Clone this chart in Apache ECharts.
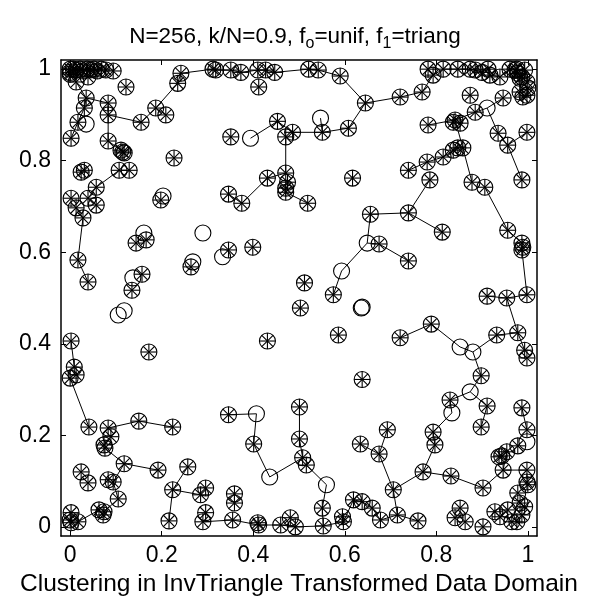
<!DOCTYPE html>
<html><head><meta charset="utf-8">
<script src="https://cdn.jsdelivr.net/npm/echarts@6/dist/echarts.min.js"></script>
<style>html,body{margin:0;padding:0;background:#fff}#c{width:590px;height:603px}</style>
</head><body><div id="c"></div>
<script>
// Clustered points (circle + asterisk)
const starPts = [
  // top-left pile
  [0.000,1.000],[0.000,0.993],[0.007,1.000],[0.013,0.998],[0.022,1.000],[0.028,0.996],[0.037,1.000],[0.044,0.998],
  [0.052,1.000],[0.059,0.996],[0.068,1.000],[0.078,0.998],[0.094,0.996],[0.013,0.972],[0.039,0.983],[0.000,0.989],
  // upper left
  [0.035,0.937],[0.083,0.926],[0.031,0.915],[0.083,0.900],[0.017,0.884],[0.002,0.849],[0.083,0.843],[0.111,0.823],
  [0.115,0.819],[0.118,0.817],[0.155,0.884],[0.187,0.915],[0.209,0.900],[0.235,0.969],[0.242,0.991],[0.312,1.000],
  [0.122,0.961],[0.227,0.806],[0.024,0.775],[0.031,0.779],[0.057,0.742],[0.107,0.779],[0.129,0.779],[0.002,0.718],
  [0.013,0.697],[0.039,0.718],[0.057,0.703],[0.028,0.675],[0.198,0.714],
  // upper middle
  [0.318,0.998],[0.351,0.998],[0.373,0.993],[0.410,0.998],[0.427,0.998],[0.447,0.993],[0.521,1.000],[0.542,0.998],
  [0.590,0.985],[0.645,0.926],[0.412,0.961],[0.453,0.886],[0.351,0.852],[0.486,0.862],[0.471,0.852],[0.551,0.862],
  [0.608,0.871],[0.471,0.773],[0.431,0.762],[0.475,0.753],[0.471,0.740],[0.471,0.731],[0.519,0.707],[0.346,0.727],
  [0.375,0.707],[0.617,0.762],[0.656,0.683],
  // upper right
  [0.782,1.000],[0.793,0.987],[0.815,1.000],[0.847,1.000],[0.874,1.000],[0.885,0.998],[0.900,0.993],[0.913,1.000],
  [0.917,0.987],[0.939,0.983],[0.961,1.000],[0.972,0.998],[0.978,0.991],[0.987,0.983],[0.993,0.998],[0.998,0.972],
  [1.000,0.959],[0.998,0.943],[0.989,0.939],[0.983,0.950],[0.976,1.000],[0.983,0.980],
  [0.721,0.939],[0.769,0.950],[0.874,0.943],[0.946,0.937],[0.885,0.906],[0.841,0.889],[0.837,0.884],[0.852,0.882],
  [0.782,0.878],[0.935,0.860],[0.998,0.862],[0.956,0.834],[0.987,0.758],[0.847,0.828],[0.837,0.823],[0.858,0.828],
  [0.815,0.808],[0.780,0.797],[0.739,0.779],[0.786,0.758],[0.878,0.753],[0.906,0.742],[0.739,0.686],
  // middle left
  [0.144,0.620],[0.166,0.627],[0.264,0.568],[0.346,0.605],[0.399,0.611],[0.157,0.552],[0.135,0.517],[0.002,0.406],
  [0.009,0.349],[0.013,0.332],[0.000,0.325],[0.172,0.382],[0.017,0.583],[0.039,0.535],
  // center
  [0.675,0.618],[0.739,0.581],[0.575,0.507],[0.512,0.533],[0.503,0.478],[0.586,0.419],[0.431,0.406],[0.638,0.322],
  [0.813,0.644],
  // middle right
  [0.956,0.648],[0.987,0.620],[0.989,0.611],[0.987,0.605],[0.911,0.504],[0.954,0.500],[0.998,0.507],[0.789,0.443],
  [0.721,0.413],[0.932,0.419],[0.978,0.424],[0.993,0.386],[0.998,0.369],[0.898,0.330],
  // lower left
  [0.041,0.218],[0.083,0.216],[0.089,0.197],[0.074,0.179],[0.076,0.172],[0.150,0.231],[0.224,0.218],[0.118,0.138],
  [0.192,0.124],[0.257,0.131],[0.224,0.081],[0.024,0.120],[0.039,0.096],[0.083,0.103],[0.094,0.098],[0.105,0.061],
  [0.063,0.037],[0.072,0.026],[0.074,0.033],[0.002,0.031],[0.002,0.009],[0.017,0.011],[0.000,0.015],[0.216,0.013],
  [0.296,0.085],[0.285,0.070],[0.296,0.031],[0.290,0.011],
  // lower middle
  [0.346,0.245],[0.401,0.181],[0.501,0.262],[0.501,0.192],[0.508,0.151],[0.516,0.135],[0.551,0.041],[0.634,0.181],
  [0.359,0.072],[0.359,0.052],[0.355,0.015],[0.412,0.004],[0.410,0.009],[0.460,0.004],[0.481,0.020],[0.492,0.000],
  [0.553,0.002],[0.595,0.022],[0.597,0.011],[0.619,0.059],[0.638,0.055],[0.660,0.041],[0.678,0.015],
  // lower right
  [0.830,0.277],[0.911,0.264],[0.898,0.218],[0.987,0.260],[0.998,0.212],[0.978,0.177],[0.954,0.164],[0.943,0.155],
  [0.937,0.153],[0.946,0.124],[0.998,0.124],[0.998,0.098],[1.000,0.092],[0.978,0.074],[0.693,0.212],[0.675,0.159],
  [0.793,0.207],[0.797,0.179],[0.771,0.120],[0.832,0.111],[0.902,0.085],[0.706,0.081],[0.715,0.026],[0.760,0.013],
  [0.841,0.020],[0.852,0.041],[0.863,0.011],[0.902,0.000],[0.928,0.033],[0.939,0.022],[0.956,0.037],[0.965,0.011],
  [0.987,0.026],[0.993,0.044],[0.983,0.052],[0.976,0.011]
];

// Unclustered points (plain circle)
const openPts = [
  [0.035,0.880],[0.394,0.849],[0.547,0.893],[0.911,0.915],[0.203,0.723],[0.161,0.642],[0.290,0.642],[0.268,0.579],
  [0.333,0.590],[0.137,0.544],[0.105,0.463],[0.118,0.472],[0.649,0.620],[0.593,0.559],[0.636,0.478],[0.638,0.480],
  [0.852,0.393],[0.880,0.382],[0.407,0.247],[0.436,0.109],[0.560,0.092],[0.874,0.295],[0.834,0.249],[0.998,0.186]
];

// Links between points (polylines)
const links = [
  [[0.013,0.972],[0.035,0.937],[0.083,0.926],[0.083,0.900],[0.155,0.884],[0.187,0.915],[0.235,0.969],[0.242,0.991],
   [0.312,1.000],[0.318,0.998],[0.351,0.998],[0.373,0.993],[0.410,0.998],[0.427,0.998],[0.447,0.993],[0.521,1.000],
   [0.542,0.998],[0.590,0.985],[0.645,0.926],[0.721,0.939],[0.769,0.950],[0.793,0.987]],
  [[0.031,0.915],[0.035,0.937]],
  [[0.002,0.849],[0.017,0.884],[0.031,0.915]],
  [[0.187,0.915],[0.209,0.900]],
  [[0.083,0.900],[0.083,0.843],[0.111,0.823]],
  [[0.645,0.926],[0.608,0.871],[0.551,0.862],[0.486,0.862],[0.453,0.886],[0.394,0.849]],
  [[0.551,0.862],[0.547,0.893]],
  [[0.471,0.852],[0.471,0.773]],
  [[0.346,0.727],[0.375,0.707],[0.431,0.762],[0.471,0.773]],
  [[0.471,0.731],[0.519,0.707]],
  [[0.782,1.000],[0.793,0.987],[0.815,1.000],[0.847,1.000],[0.874,1.000],[0.885,0.998],[0.900,0.993],[0.913,1.000],
   [0.917,0.987],[0.939,0.983],[0.961,1.000]],
  [[0.782,0.878],[0.841,0.889],[0.885,0.906],[0.911,0.915],[0.946,0.937]],
  [[0.911,0.915],[0.935,0.860],[0.956,0.834],[0.998,0.862]],
  [[0.956,0.834],[0.987,0.758]],
  [[0.841,0.889],[0.858,0.828],[0.878,0.753]],
  [[0.739,0.779],[0.780,0.797],[0.815,0.808],[0.847,0.828]],
  [[0.786,0.758],[0.739,0.686],[0.656,0.683]],
  [[0.906,0.742],[0.956,0.648],[0.987,0.620]],
  [[0.739,0.686],[0.813,0.644]],
  [[0.656,0.683],[0.649,0.620],[0.593,0.559],[0.575,0.507]],
  [[0.649,0.620],[0.675,0.618],[0.739,0.581]],
  [[0.987,0.605],[0.998,0.507],[0.954,0.500],[0.911,0.504]],
  [[0.721,0.413],[0.789,0.443],[0.852,0.393],[0.880,0.382],[0.932,0.419],[0.978,0.424],[0.993,0.386]],
  [[0.978,0.424],[0.954,0.500]],
  [[0.880,0.382],[0.898,0.330],[0.874,0.295],[0.830,0.277],[0.834,0.249],[0.793,0.207],[0.797,0.179],[0.771,0.120],
   [0.706,0.081],[0.675,0.159],[0.693,0.212]],
  [[0.874,0.295],[0.911,0.264],[0.898,0.218]],
  [[0.675,0.159],[0.634,0.181]],
  [[0.706,0.081],[0.715,0.026],[0.760,0.013]],
  [[0.771,0.120],[0.832,0.111],[0.902,0.085],[0.946,0.124],[0.998,0.124]],
  [[0.946,0.124],[0.954,0.164]],
  [[0.987,0.260],[0.998,0.212]],
  [[0.000,0.325],[0.041,0.218]],
  [[0.002,0.406],[0.009,0.349]],
  [[0.083,0.216],[0.150,0.231],[0.224,0.218]],
  [[0.076,0.172],[0.118,0.138],[0.192,0.124]],
  [[0.118,0.138],[0.094,0.098],[0.105,0.061],[0.074,0.033]],
  [[0.257,0.131],[0.224,0.081],[0.285,0.070]],
  [[0.224,0.081],[0.216,0.013]],
  [[0.017,0.011],[0.063,0.037]],
  [[0.346,0.245],[0.407,0.247],[0.401,0.181],[0.436,0.109],[0.508,0.151]],
  [[0.501,0.262],[0.501,0.192],[0.508,0.151]],
  [[0.516,0.135],[0.560,0.092],[0.551,0.041],[0.553,0.002]],
  [[0.290,0.011],[0.355,0.015],[0.412,0.004],[0.460,0.004],[0.492,0.000],[0.553,0.002],[0.597,0.011]],
  [[0.597,0.011],[0.619,0.059],[0.638,0.055],[0.660,0.041],[0.678,0.015],[0.715,0.026]],
  [[0.107,0.779],[0.057,0.742],[0.039,0.718]],
  [[0.013,0.697],[0.028,0.675],[0.017,0.583],[0.039,0.535]]
];

const tickValues = [0, 0.2, 0.4, 0.6, 0.8, 1];
const xName = 'Clustering in InvTriangle Transformed Data Domain';

const FONT = "'Liberation Sans', Arial, Helvetica, sans-serif";
const R = 8;

function starItem(params, api) {
  const p = api.coord([api.value(0), api.value(1)]);
  const ch = [{type:'circle', shape:{cx:p[0], cy:p[1], r:R}, style:{fill:'none', stroke:'#000', lineWidth:1.1}}];
  for (let k = 0; k < 4; k++) {
    const a = k * Math.PI / 4, dx = Math.cos(a) * R, dy = Math.sin(a) * R;
    ch.push({type:'line', shape:{x1:p[0]-dx, y1:p[1]-dy, x2:p[0]+dx, y2:p[1]+dy}, style:{stroke:'#000', lineWidth:1.1}});
  }
  return {type:'group', children: ch};
}
function openItem(params, api) {
  const p = api.coord([api.value(0), api.value(1)]);
  return {type:'circle', shape:{cx:p[0], cy:p[1], r:R}, style:{fill:'none', stroke:'#000', lineWidth:1.1}};
}

function mkAxis(pos, withLabels) {
  return {
    type:'value', min:-0.02, max:1.02, position:pos,
    axisLine:{show:true, onZero:false, lineStyle:{color:'#000', width:1.5}},
    axisTick:{show:true, inside:true, length:5, customValues:tickValues, lineStyle:{color:'#000', width:1}},
    axisLabel:{show:withLabels, customValues:tickValues, color:'#000', fontSize:23, fontFamily:FONT, margin:8,
      formatter: v => String(Math.round(v*10)/10)},
    splitLine:{show:false}
  };
}

const xa0 = mkAxis('bottom', true);
xa0.name = xName; xa0.nameLocation = 'middle'; xa0.nameGap = 31;
xa0.nameTextStyle = {color:'#000', fontSize:24.5, fontFamily:FONT};
const ya0 = mkAxis('left', true);
ya0.axisLabel.margin = 10;

const chart = echarts.init(document.getElementById('c'), null, {renderer:'canvas'});
chart.setOption({
  backgroundColor:'#fff',
  animation:false,
  title:{
    text:'{n|N=256, k/N=0.9, f}{s|o}{n|=unif, f}{s|1}{n|=triang}',
    left:'center', top:20,
    textStyle:{fontWeight:'normal', rich:{
      n:{fontSize:22.5, fontFamily:FONT, fontWeight:'normal', color:'#000', lineHeight:22, verticalAlign:'top'},
      s:{fontSize:16, fontFamily:FONT, fontWeight:'normal', color:'#000', lineHeight:16, verticalAlign:'top', padding:[11,0,0,0]}
    }}
  },
  grid:{left:61, top:60, width:476, height:476, containLabel:false},
  xAxis:[xa0, mkAxis('top', false)],
  yAxis:[ya0, mkAxis('right', false)],
  series:[
    {type:'lines', coordinateSystem:'cartesian2d', xAxisIndex:0, yAxisIndex:0, polyline:true, silent:true,
     lineStyle:{color:'#000', width:1, opacity:1}, data: links.map(c => ({coords:c})), z:2},
    {type:'custom', xAxisIndex:0, yAxisIndex:0, renderItem:starItem, data:starPts, silent:true, z:3},
    {type:'custom', xAxisIndex:0, yAxisIndex:0, renderItem:openItem, data:openPts, silent:true, z:3}
  ]
});
</script></body></html>
